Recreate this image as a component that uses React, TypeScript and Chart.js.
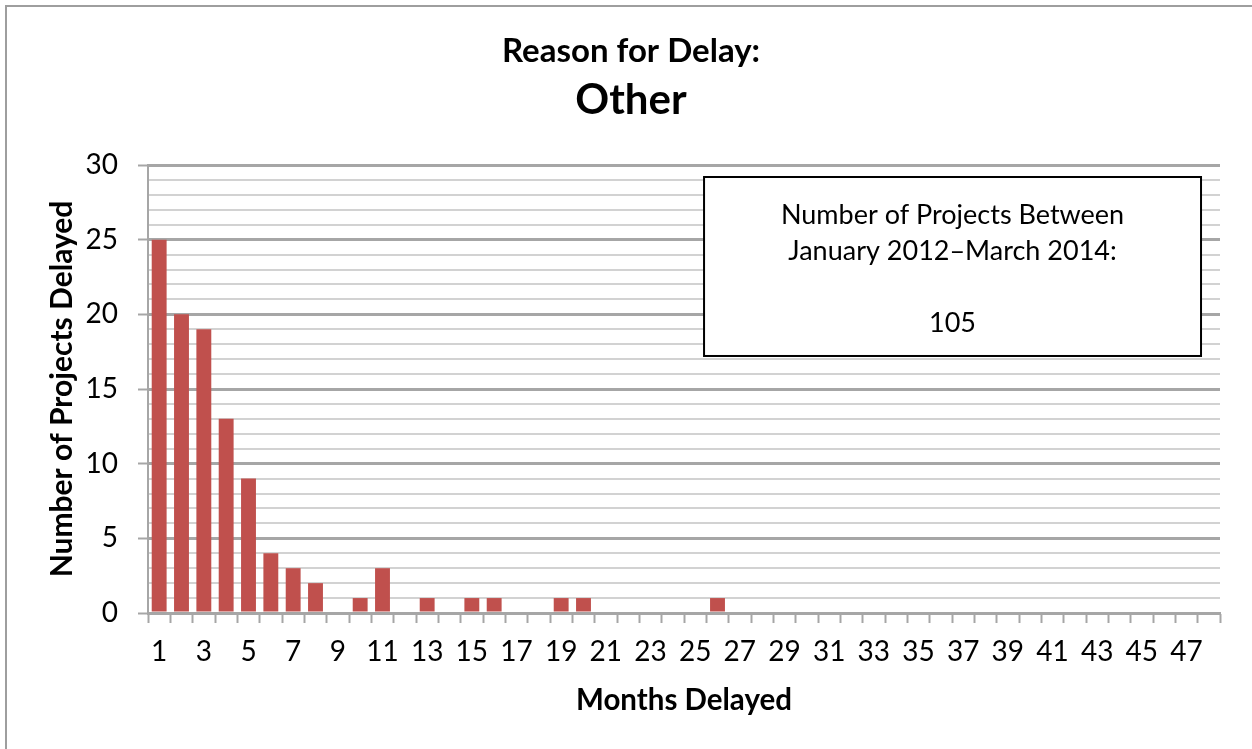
import React, { useEffect, useRef } from "react";
import { Chart, registerables } from "chart.js";

Chart.register(...registerables);

const monthsDelayed = [
  "1", "2", "3", "4", "5", "6", "7", "8", "9", "10", "11", "12",
  "13", "14", "15", "16", "17", "18", "19", "20", "21", "22", "23", "24",
  "25", "26", "27", "28", "29", "30", "31", "32", "33", "34", "35", "36",
  "37", "38", "39", "40", "41", "42", "43", "44", "45", "46", "47", "48",
];

const projectsDelayed = [
  25, 20, 19, 13, 9, 4, 3, 2, 0, 1, 3, 0,
  1, 0, 1, 1, 0, 0, 1, 1, 0, 0, 0, 0,
  0, 1, 0, 0, 0, 0, 0, 0, 0, 0, 0, 0,
  0, 0, 0, 0, 0, 0, 0, 0, 0, 0, 0, 0,
];

const titleLines = ["Reason for Delay:", "Other"];
const noteLines = ["Number of Projects Between", "January 2012\u2013March 2014:", "", "105"];
const yAxisTitle = "Number of Projects Delayed";
const xAxisTitle = "Months Delayed";

const FONT = "Lato";
const BAR_COLOR = "#c0504d";
const MAJOR_GRID = "#a6a6a6";
const MINOR_GRID = "#d2d2d2";

const noteBoxPlugin = {
  id: "noteBox",
  afterDatasetsDraw(chart: any) {
    const { ctx, chartArea } = chart;
    const w = chartArea.right - chartArea.left;
    const h = chartArea.bottom - chartArea.top;
    const x0 = chartArea.left + w * 0.5187;
    const x1 = chartArea.left + w * 0.9823;
    const y0 = chartArea.top + h * 0.0268;
    const y1 = chartArea.top + h * 0.4263;
    ctx.save();
    ctx.fillStyle = "#ffffff";
    ctx.fillRect(x0, y0, x1 - x0, y1 - y0);
    ctx.strokeStyle = "#000000";
    ctx.lineWidth = 2;
    ctx.strokeRect(x0, y0, x1 - x0, y1 - y0);
    ctx.fillStyle = "#000000";
    ctx.font = `27px ${FONT}`;
    ctx.textAlign = "center";
    ctx.textBaseline = "middle";
    const cx = (x0 + x1) / 2;
    const lineGap = 36;
    const startY = y0 + 38;
    noteLines.forEach((line, i) => {
      if (line) ctx.fillText(line, cx, startY + i * lineGap);
    });
    ctx.restore();
  },
};

export default function App() {
  const canvasRef = useRef<HTMLCanvasElement | null>(null);

  useEffect(() => {
    const canvas = canvasRef.current;
    if (!canvas) return;
    Chart.defaults.font.family = FONT;
    Chart.defaults.color = "#000000";
    const chart = new Chart(canvas, {
      type: "bar",
      data: {
        labels: monthsDelayed,
        datasets: [
          {
            data: projectsDelayed,
            backgroundColor: BAR_COLOR,
            borderWidth: 0,
            barPercentage: 0.667,
            categoryPercentage: 1,
          },
        ],
      },
      options: {
        responsive: false,
        animation: false,
        layout: { padding: { left: 42, right: 32, top: 0, bottom: 0 } },
        plugins: {
          legend: { display: false },
          tooltip: { enabled: false },
          title: {
            display: true,
            text: titleLines[0],
            color: "#000000",
            font: { family: FONT, size: 33, weight: "bold", lineHeight: 1.2 },
            padding: { top: 32, bottom: 0 },
          },
          subtitle: {
            display: true,
            text: titleLines[1],
            color: "#000000",
            font: { family: FONT, size: 42, weight: "bold", lineHeight: 1.2 },
            padding: { top: 3.2, bottom: 39.8 },
          },
        },
        scales: {
          x: {
            type: "category",
            offset: true,
            grid: {
              display: true,
              offset: true,
              drawOnChartArea: false,
              drawTicks: true,
              tickLength: 10,
              tickColor: MAJOR_GRID,
              tickWidth: 2,
            },
            border: { display: true, color: MAJOR_GRID, width: 2 },
            ticks: {
              autoSkip: false,
              maxRotation: 0,
              minRotation: 0,
              padding: 12,
              color: "#000000",
              font: { family: FONT, size: 28 },
              callback: (_v: any, idx: number) => (idx % 2 === 0 ? monthsDelayed[idx] : ""),
            },
            title: {
              display: true,
              text: xAxisTitle,
              color: "#000000",
              font: { family: FONT, size: 29.5, weight: "bold", lineHeight: 1.2 },
              padding: { top: 4, bottom: 31 },
            },
            afterFit: (scale: any) => {
              scale.height = 136;
            },
          },
          y: {
            min: 0,
            max: 30,
            grid: {
              color: (ctx: any) => (ctx.tick && ctx.tick.value % 5 === 0 ? MAJOR_GRID : MINOR_GRID),
              lineWidth: (ctx: any) => (ctx.tick && ctx.tick.value % 5 === 0 ? 3 : 2),
              tickColor: (ctx: any) => (ctx.tick && ctx.tick.value % 5 === 0 ? MAJOR_GRID : "rgba(0,0,0,0)"),
              tickWidth: 2,
              tickLength: 10,
            },
            border: { display: true, color: MAJOR_GRID, width: 2 },
            ticks: {
              stepSize: 1,
              autoSkip: false,
              padding: 20,
              color: "#000000",
              font: { family: FONT, size: 28 },
              callback: (v: any) => (Number(v) % 5 === 0 ? String(v) : ""),
            },
            title: {
              display: true,
              text: yAxisTitle,
              color: "#000000",
              font: { family: FONT, size: 30, weight: "bold", lineHeight: 1.2 },
              padding: { top: 2, bottom: 4 },
            },
            afterFit: (scale: any) => {
              scale.width = 106;
            },
          },
        },
      },
      plugins: [noteBoxPlugin],
    });
    return () => chart.destroy();
  }, []);

  return (
    <div style={{ position: "fixed", left: 0, top: 0, width: 1252, height: 749, background: "#ffffff", overflow: "hidden" }}>
      <div
        style={{
          position: "absolute",
          left: 5,
          top: 5,
          right: 0,
          bottom: 0,
          borderTop: "2px solid #9e9e9e",
          borderLeft: "2px solid #9e9e9e",
        }}
      />
      <canvas
        ref={canvasRef}
        width={1252}
        height={749}
        style={{ position: "absolute", left: 0, top: 0, width: 1252, height: 749 }}
      />
    </div>
  );
}
